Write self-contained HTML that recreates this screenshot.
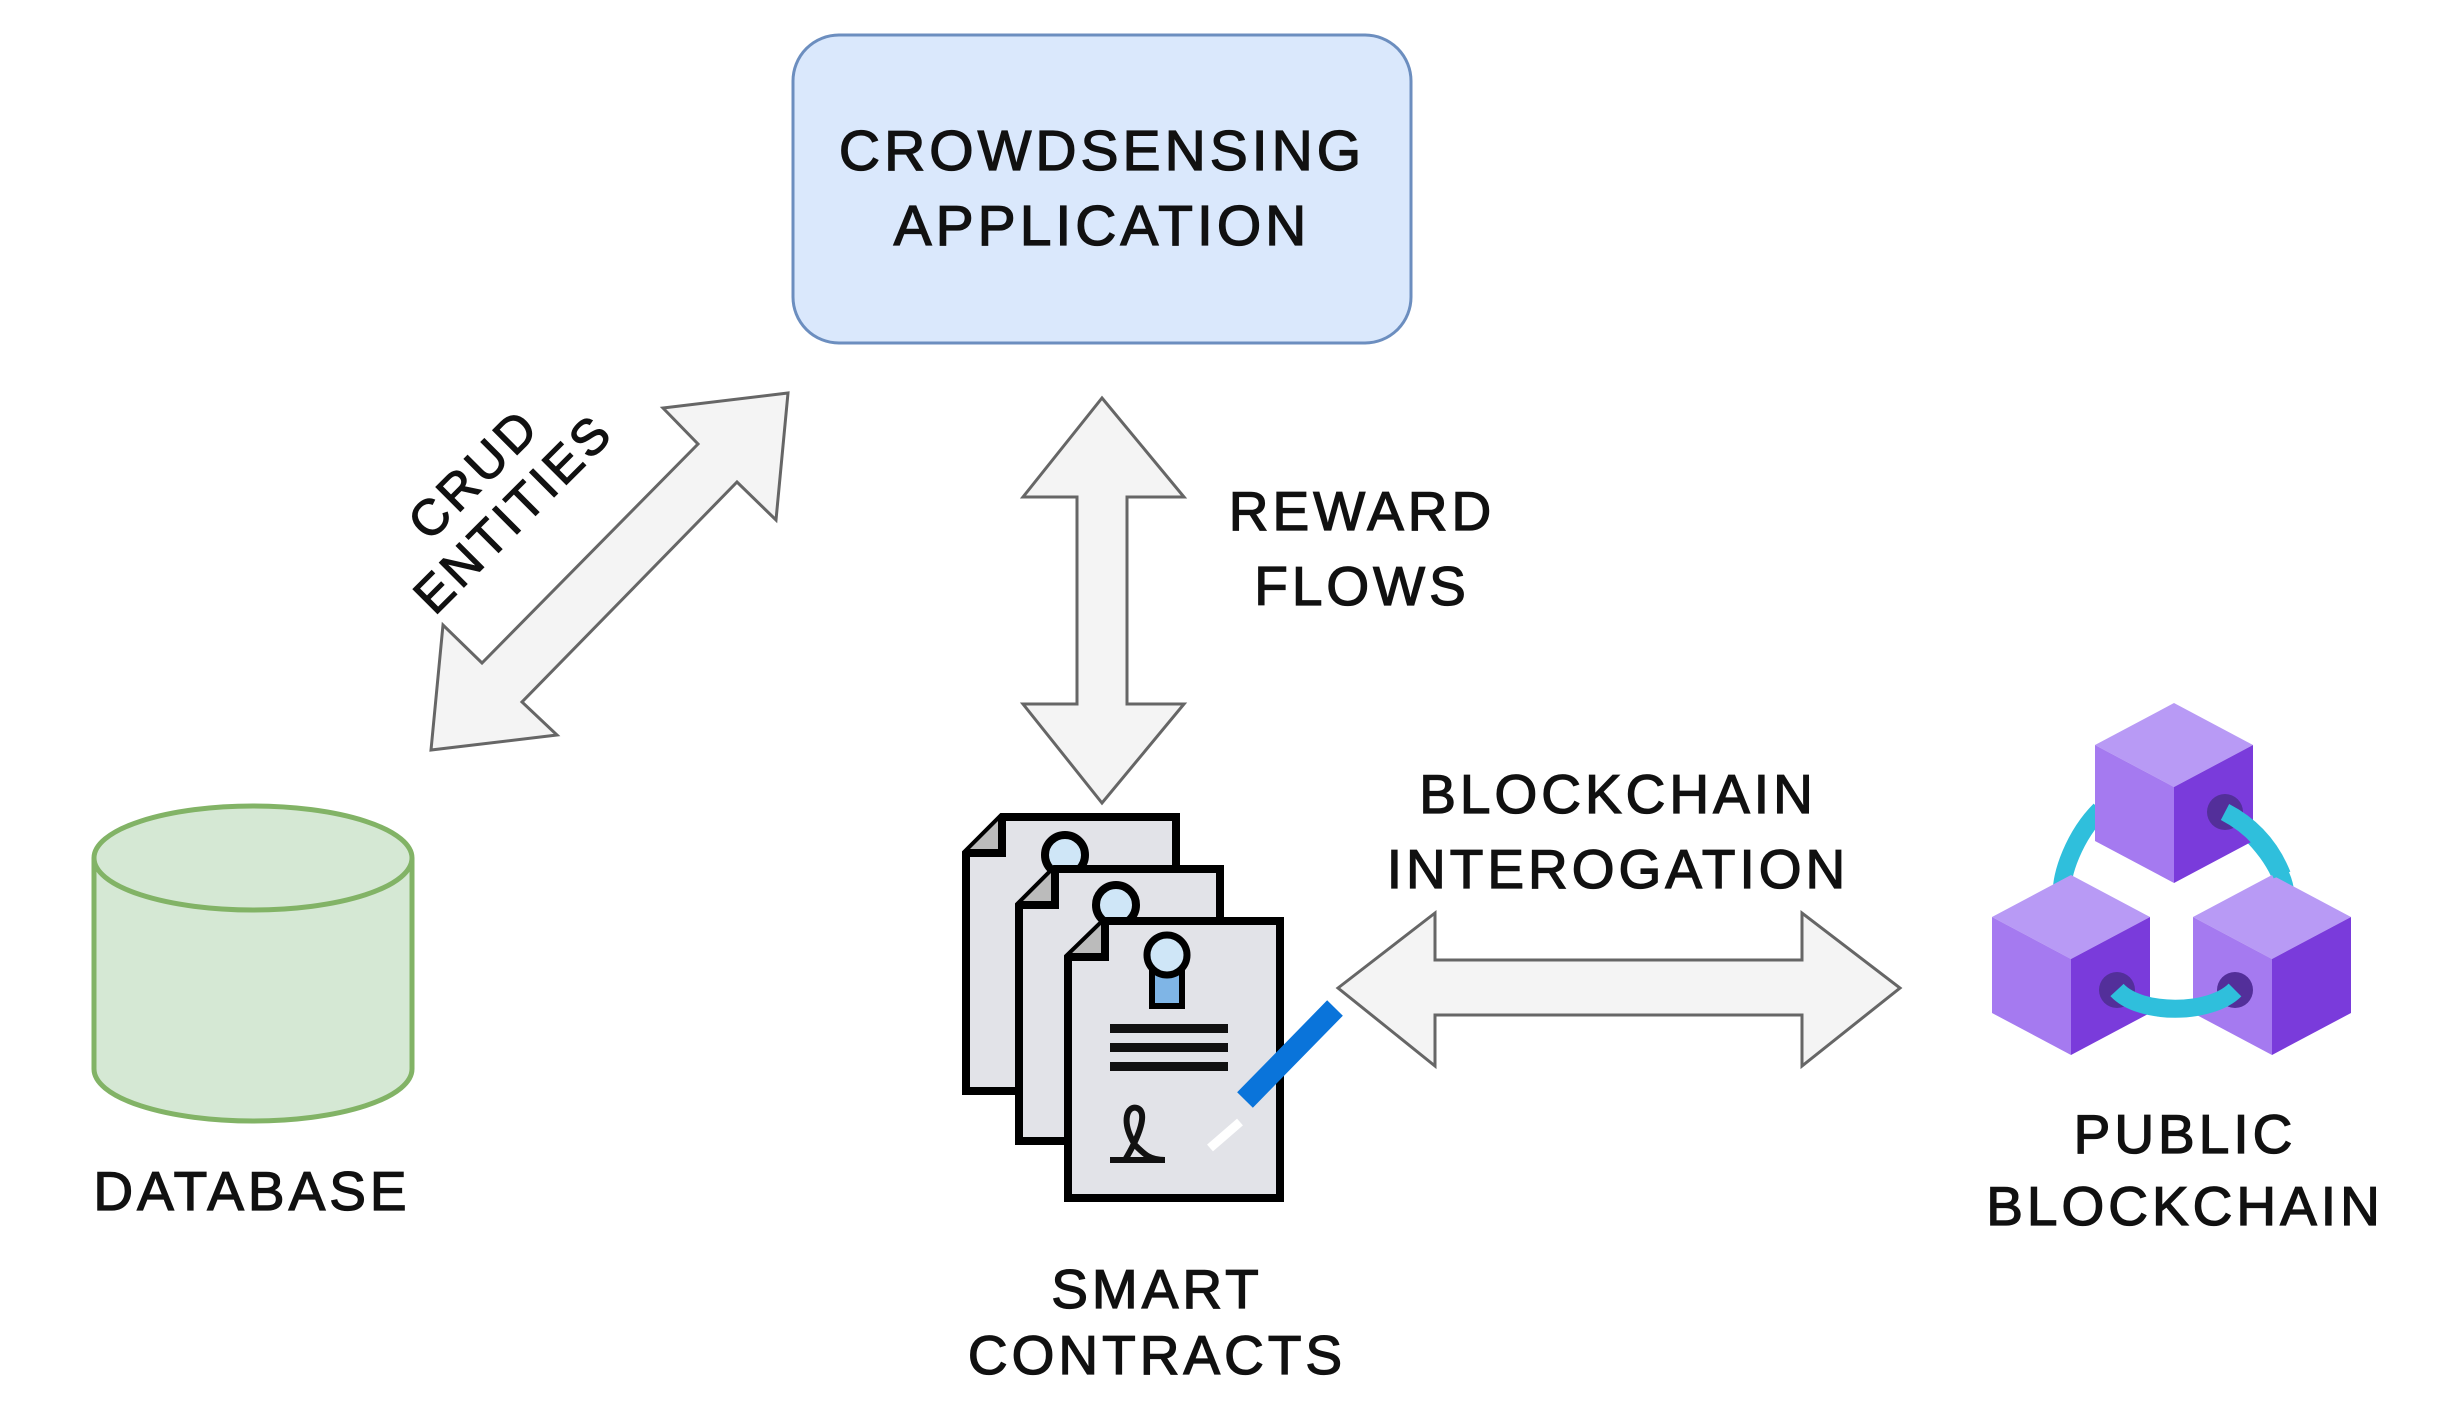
<!DOCTYPE html>
<html><head><meta charset="utf-8"><style>
html,body{margin:0;padding:0;background:#fff;}
svg{display:block;}
text{font-family:"Liberation Sans",sans-serif;fill:#111;stroke:#111;stroke-width:1.3;text-anchor:middle;letter-spacing:4px;}
</style></head><body>
<svg width="2455" height="1410" viewBox="0 0 2455 1410" xmlns="http://www.w3.org/2000/svg">
<rect x="793" y="35" width="618" height="308" rx="46" fill="#dae8fc" stroke="#6c8ebf" stroke-width="3"/>
<text x="1102" y="170" font-size="57">CROWDSENSING</text>
<text x="1102" y="245" font-size="57">APPLICATION</text>

<polygon points="788,393 776,520 737,482 522,702 557,735 431,750 443,625 482,663 698,444 663,408" fill="#f4f4f4" stroke="#666" stroke-width="3"/>
<g transform="translate(500,500) rotate(-45)">
<text x="0" y="-20" font-size="50">CRUD</text>
<text x="0" y="36" font-size="50">ENTITIES</text>
</g>

<polygon points="1102,398 1184,497 1127,497 1127,704 1184,704 1102,803 1023,704 1077,704 1077,497 1023,497" fill="#f4f4f4" stroke="#666" stroke-width="3"/>
<text x="1362" y="530" font-size="55">REWARD</text>
<text x="1362" y="605" font-size="55">FLOWS</text>

<polygon points="1338,988 1435,913 1435,960 1802,960 1802,913 1900,988 1802,1066 1802,1015 1435,1015 1435,1066" fill="#f4f4f4" stroke="#666" stroke-width="3"/>
<text x="1618" y="813" font-size="55">BLOCKCHAIN</text>
<text x="1618" y="888" font-size="55">INTEROGATION</text>

<path d="M94,858 L94,1069 A159,52 0 0 0 412,1069 L412,858" fill="#d5e8d4" stroke="#82b366" stroke-width="5"/>
<ellipse cx="253" cy="858" rx="159" ry="52" fill="#d5e8d4" stroke="#82b366" stroke-width="5"/>
<text x="252" y="1210" font-size="55">DATABASE</text>

<g stroke="#000" stroke-width="8">
<path d="M1002,817 L1176,817 L1176,1091 L966,1091 L966,853 Z" fill="#e2e3e8"/>
<path d="M966,853 L1002,853 L1002,817" fill="#bbb"/>
<circle cx="1065" cy="855" r="20" fill="#cfe6f7"/>
<path d="M1055,869 L1220,869 L1220,1141 L1019,1141 L1019,905 Z" fill="#e2e3e8"/>
<path d="M1019,905 L1055,905 L1055,869" fill="#bbb"/>
<circle cx="1116" cy="905" r="20" fill="#cfe6f7"/>
<path d="M1105,921 L1280,921 L1280,1198 L1068,1198 L1068,957 Z" fill="#e2e3e8"/>
<path d="M1068,957 L1105,957 L1105,921" fill="#bbb"/>
<rect x="1152" y="970" width="30" height="36" fill="#7fb5e6" stroke-width="6"/>
<circle cx="1167" cy="955" r="20" fill="#cfe6f7" stroke-width="7"/>
</g>
<rect x="1110" y="1024" width="118" height="9" fill="#111"/>
<rect x="1110" y="1043" width="118" height="9" fill="#111"/>
<rect x="1110" y="1062" width="118" height="9" fill="#111"/>
<path d="M1135,1145 C1120,1120 1128,1105 1137,1108 C1148,1112 1140,1135 1125,1160 M1110,1160 L1165,1160 M1135,1145 C1145,1155 1150,1160 1165,1160" fill="none" stroke="#111" stroke-width="6"/>
<line x1="1335" y1="1008" x2="1245" y2="1100" stroke="#0a74da" stroke-width="22"/>
<line x1="1240" y1="1122" x2="1210" y2="1148" stroke="#fff" stroke-width="9"/>
<text x="1157" y="1308" font-size="55">SMART</text>
<text x="1157" y="1374" font-size="55">CONTRACTS</text>

<g stroke="#2fbfdc" stroke-width="18" fill="none">
<path d="M2100,810 C2075,835 2060,875 2062,895"/>
<path d="M2227,815 C2260,835 2282,870 2285,890"/>
</g>
<polygon points="2174,703 2253,745 2174,787 2095,745" fill="#b89af5"/>
<polygon points="2095,745 2174,787 2174,883 2095,841" fill="#a57af0"/>
<polygon points="2253,745 2174,787 2174,883 2253,841" fill="#7a3bdb"/>
<polygon points="2071,875 2150,917 2071,959 1992,917" fill="#b89af5"/>
<polygon points="1992,917 2071,959 2071,1055 1992,1013" fill="#a57af0"/>
<polygon points="2150,917 2071,959 2071,1055 2150,1013" fill="#7a3bdb"/>
<polygon points="2272,875 2351,917 2272,959 2193,917" fill="#b89af5"/>
<polygon points="2193,917 2272,959 2272,1055 2193,1013" fill="#a57af0"/>
<polygon points="2351,917 2272,959 2272,1055 2351,1013" fill="#7a3bdb"/>
<circle cx="2225" cy="812" r="18" fill="#532f9a"/>
<circle cx="2117" cy="990" r="18" fill="#532f9a"/>
<circle cx="2235" cy="990" r="18" fill="#532f9a"/>
<path d="M2225,812 C2250,825 2270,845 2282,875" stroke="#2fbfdc" stroke-width="18" fill="none"/>
<path d="M2117,990 C2140,1015 2210,1015 2235,990" stroke="#2fbfdc" stroke-width="18" fill="none"/>
<text x="2185" y="1153" font-size="55">PUBLIC</text>
<text x="2185" y="1225" font-size="55">BLOCKCHAIN</text>
</svg>
</body></html>
